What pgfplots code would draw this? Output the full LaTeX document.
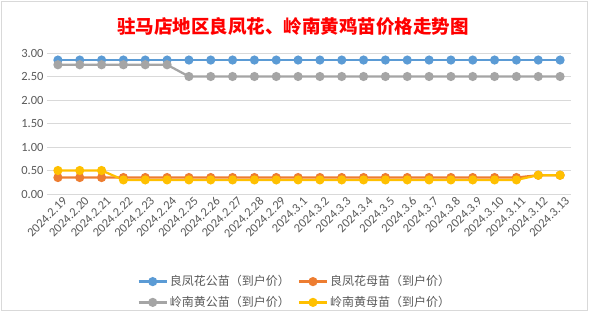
\documentclass[border=0pt]{standalone}
\usepackage{fontspec}
\setmainfont{Carlito}
\newfontfamily\cjk{Noto Sans CJK SC}
\usepackage{pgfplots}
\pgfplotsset{compat=1.18}
\definecolor{cblue}{HTML}{5B9BD5}
\definecolor{corange}{HTML}{ED7D31}
\definecolor{cgray}{HTML}{A5A5A5}
\definecolor{cyellow}{HTML}{FFC000}
\definecolor{ctext}{HTML}{595959}
\definecolor{cgrid}{HTML}{D9D9D9}
\definecolor{ctitle}{HTML}{FF0000}
\begin{document}
\begin{tikzpicture}[x=1pt,y=1pt]
\path[use as bounding box] (0,0) rectangle (589,312);
\draw[cgrid] (1.5,1.5) rectangle (587.5,310.5);
\node[text=ctitle, font={\cjk\bfseries\fontsize{18.5}{20}\selectfont}] at (293,285.5) {驻马店地区良凤花、岭南黄鸡苗价格走势图};
\begin{axis}[
  at={(47pt,118pt)}, anchor=south west,
  scale only axis, width=524pt, height=141pt,
  xmin=-0.5, xmax=23.5, ymin=0, ymax=3,
  ytick={0,0.5,1,1.5,2,2.5,3},
  yticklabel style={/pgf/number format/.cd, fixed, fixed zerofill, precision=2, /tikz/.cd, text=ctext, font=\fontsize{12.5}{14}\selectfont},
  /pgf/number format/assume math mode=true,
  ymajorgrids, grid style={cgrid, line width=0.75pt},
  axis line style={draw=none},
  tick style={draw=none},
  xtick={0,...,23},
  xticklabels={2024.2.19,2024.2.20,2024.2.21,2024.2.22,2024.2.23,2024.2.24,2024.2.25,2024.2.26,2024.2.27,2024.2.28,2024.2.29,2024.3.1,2024.3.2,2024.3.3,2024.3.4,2024.3.5,2024.3.6,2024.3.7,2024.3.8,2024.3.9,2024.3.10,2024.3.11,2024.3.12,2024.3.13},
  xticklabel style={rotate=45, anchor=north east, text=ctext, font=\fontsize{12.5}{14}\selectfont, xshift=5pt, yshift=-1pt},
  every axis plot/.append style={line width=2.25pt, mark=*, mark size=3.4pt},
  legend columns=2,
  legend style={at={(0.473,-0.695)}, anchor=center, draw=none, fill=none, font={\cjk\fontsize{12}{13}\selectfont}, text=ctext, row sep=5pt, /tikz/every even column/.append style={column sep=6pt}},
  legend image code/.code={\draw[mark repeat=2,mark phase=2] plot coordinates {(0pt,0pt) (14pt,0pt) (28pt,0pt)};},
]
\addplot[cblue, mark options={fill=cblue, draw=cblue}] coordinates {(0,2.85)(1,2.85)(2,2.85)(3,2.85)(4,2.85)(5,2.85)(6,2.85)(7,2.85)(8,2.85)(9,2.85)(10,2.85)(11,2.85)(12,2.85)(13,2.85)(14,2.85)(15,2.85)(16,2.85)(17,2.85)(18,2.85)(19,2.85)(20,2.85)(21,2.85)(22,2.85)(23,2.85)};
\addlegendentry{良凤花公苗（到户价）}
\addplot[corange, mark options={fill=corange, draw=corange}] coordinates {(0,0.35)(1,0.35)(2,0.35)(3,0.35)(4,0.35)(5,0.35)(6,0.35)(7,0.35)(8,0.35)(9,0.35)(10,0.35)(11,0.35)(12,0.35)(13,0.35)(14,0.35)(15,0.35)(16,0.35)(17,0.35)(18,0.35)(19,0.35)(20,0.35)(21,0.35)(22,0.40)(23,0.40)};
\addlegendentry{良凤花母苗（到户价）}
\addplot[cgray, mark options={fill=cgray, draw=cgray}] coordinates {(0,2.75)(1,2.75)(2,2.75)(3,2.75)(4,2.75)(5,2.75)(6,2.50)(7,2.50)(8,2.50)(9,2.50)(10,2.50)(11,2.50)(12,2.50)(13,2.50)(14,2.50)(15,2.50)(16,2.50)(17,2.50)(18,2.50)(19,2.50)(20,2.50)(21,2.50)(22,2.50)(23,2.50)};
\addlegendentry{岭南黄公苗（到户价）}
\addplot[cyellow, mark options={fill=cyellow, draw=cyellow}] coordinates {(0,0.50)(1,0.50)(2,0.50)(3,0.30)(4,0.30)(5,0.30)(6,0.30)(7,0.30)(8,0.30)(9,0.30)(10,0.30)(11,0.30)(12,0.30)(13,0.30)(14,0.30)(15,0.30)(16,0.30)(17,0.30)(18,0.30)(19,0.30)(20,0.30)(21,0.30)(22,0.40)(23,0.40)};
\addlegendentry{岭南黄母苗（到户价）}
\end{axis}
\end{tikzpicture}
\end{document}
